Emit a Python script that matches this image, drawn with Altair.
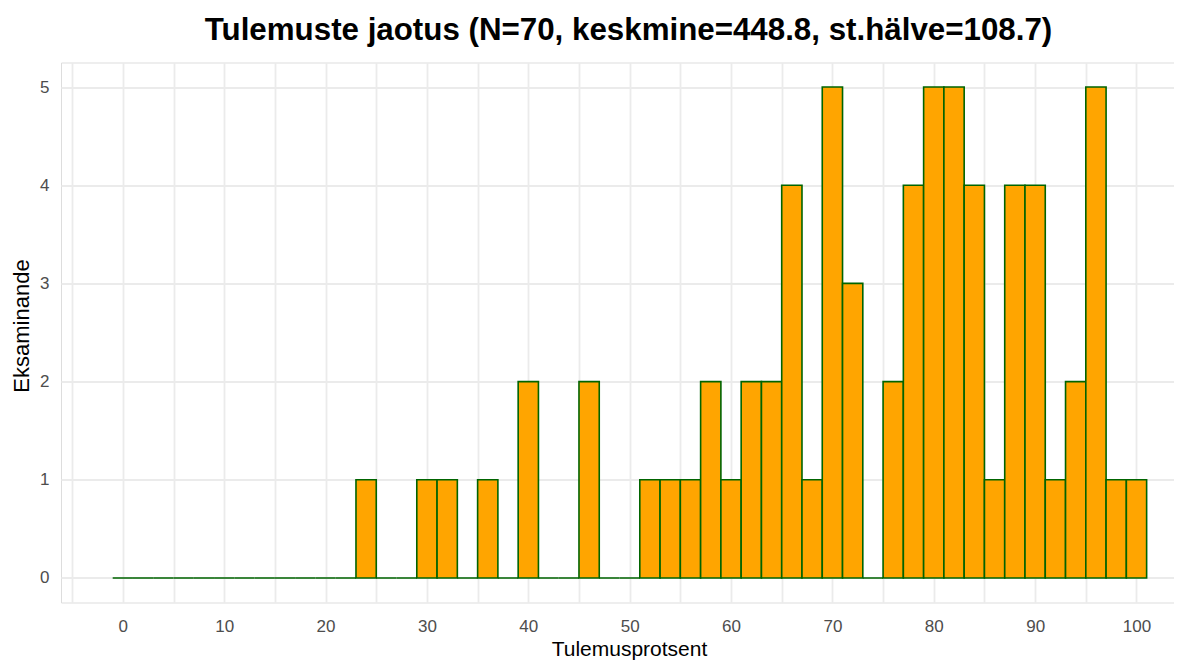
import altair as alt
import pandas as pd

# Histogram bins (width 2, centred on even values) and their counts
bin_centers = list(range(0, 101, 2))
counts = [0, 0, 0, 0, 0, 0, 0, 0, 0, 0, 0, 0,
          1, 0, 0, 1, 1, 0, 1, 0, 2, 0, 0, 2, 0, 0,
          1, 1, 1, 2, 1, 2, 2, 4, 1, 5, 3, 0, 2, 4, 5, 5, 4, 1, 4, 4, 1, 2, 5, 1, 1]

x_tick_values = [-5, 0, 5, 10, 15, 20, 25, 30, 35, 40, 45, 50, 55, 60, 65, 70, 75, 80, 85, 90, 95, 100]
y_tick_values = [0, 0.5, 1, 1.5, 2, 2.5, 3, 3.5, 4, 4.5, 5]

title_text = "Tulemuste jaotus (N=70, keskmine=448.8, st.hälve=108.7)"
x_title = "Tulemusprotsent"
y_title = "Eksaminande"

df = pd.DataFrame({"center": bin_centers, "count": counts})

FONT = "Liberation Sans"

chart = (
    alt.Chart(df)
    .transform_calculate(lo="datum.center - 1", hi="datum.center + 1")
    .mark_bar(fill="#FFA500", stroke="#006400", strokeWidth=1.6)
    .encode(
        x=alt.X(
            "lo:Q",
            scale=alt.Scale(domain=[-6.1, 103.7], nice=False, zero=False),
            axis=alt.Axis(
                values=x_tick_values,
                labelExpr="datum.value % 10 === 0 ? datum.label : ''",
                title=x_title,
                ticks=False,
                domain=False,
                grid=True,
                gridColor="#EBEBEB",
                gridWidth=1.8,
                labelFont=FONT,
                labelFontSize=17,
                labelColor="#4D4D4D",
                labelBaseline="alphabetic",
                labelPadding=29,
                labelFlush=False,
                titleFont=FONT,
                titleFontSize=21,
                titleFontWeight="normal",
                titleColor="black",
                titleBaseline="alphabetic",
                titleAlign="center",
                titleX=568,
                titleY=53,
            ),
        ),
        x2="hi:Q",
        y=alt.Y(
            "count:Q",
            scale=alt.Scale(domain=[-0.25, 5.25], nice=False, zero=False),
            axis=alt.Axis(
                values=y_tick_values,
                labelExpr="datum.value % 1 === 0 ? datum.label : ''",
                format="d",
                title=y_title,
                ticks=False,
                domain=False,
                grid=True,
                gridColor="#EBEBEB",
                gridWidth=1.8,
                labelFont=FONT,
                labelFontSize=17,
                labelColor="#4D4D4D",
                labelPadding=12,
                labelFlush=False,
                titleFont=FONT,
                titleFontSize=22,
                titleFontWeight="normal",
                titleColor="black",
                titleBaseline="alphabetic",
                titleAlign="center",
                titleAngle=270,
                titleX=-33,
                titleY=263,
            ),
        ),
        y2=alt.datum(0),
    )
    .properties(
        width=1113,
        height=540,
        padding={"left": 53, "top": 54.5, "right": 0, "bottom": 59},
        autosize=alt.AutoSizeParams(type="none"),
        title=alt.TitleParams(
            text=title_text,
            font=FONT,
            fontSize=31.3,
            fontWeight="bold",
            color="black",
            anchor="middle",
            baseline="alphabetic",
            offset=22,
            dy=31,
            dx=11,
        ),
    )
    .configure_view(stroke=None)
    .configure(background="white")
)

chart.save("out.html", embed_options={"renderer": "svg", "actions": False})
